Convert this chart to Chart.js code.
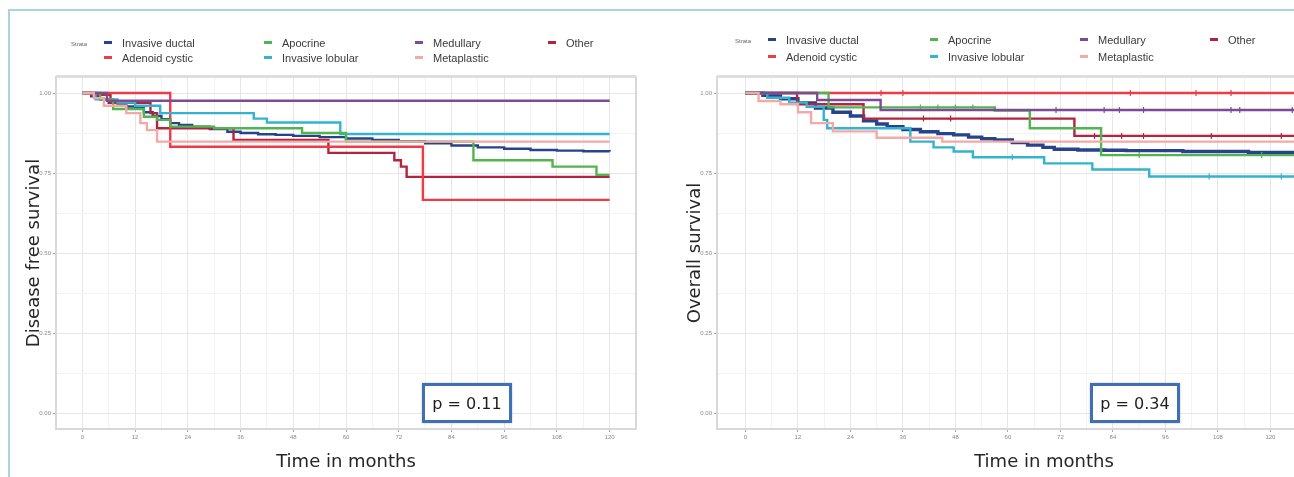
<!DOCTYPE html>
<html>
<head>
<meta charset="utf-8">
<script src="https://cdn.jsdelivr.net/npm/chart.js@4.4.1/dist/chart.umd.min.js"></script>
<style>
    html, body { margin: 0; padding: 0; background: #fff; }
    body { width: 1294px; height: 477px; overflow: hidden; position: relative; font-family: "DejaVu Sans", sans-serif; }
    .frame { position: absolute; left: 8px; top: 9px; width: 1300px; height: 480px; border-top: 2px solid #a9d5de; border-left: 2px solid #a9d5de; }
    canvas { position: absolute; top: 0; }
    #dfsChart { left: 0; }
    #osChart { left: 650px; }
    .strata { position: absolute; font-family: "Liberation Sans", sans-serif; font-size: 6px; color: #666; }
    .item { position: absolute; white-space: nowrap; font-family: "Liberation Sans", sans-serif; font-size: 11px; line-height: 13px; color: #3a3a3a; }
    .sw { position: absolute; width: 8px; height: 3px; }
    .pbox { position: absolute; box-sizing: border-box; width: 90px; height: 40px; border: 3px solid #3f6fb5; background: #fff;
            display: flex; align-items: center; justify-content: center; font-size: 16px; color: #1e1e1e; box-shadow: 0 0 2px rgba(0,0,0,0.25); }
</style>
</head>
<body>
<div class="frame"></div>
<canvas id="dfsChart" width="650" height="477"></canvas>
<canvas id="osChart" width="740" height="477"></canvas>
<div id="legends"></div>
<div class="pbox" style="left:422px;top:383px;">p = 0.11</div>
<div class="pbox" style="left:1090px;top:383px;">p = 0.34</div>

<script>
// ---- data ----
const groups = ['Invasive ductal', 'Adenoid cystic', 'Apocrine', 'Invasive lobular', 'Medullary', 'Metaplastic', 'Other'];

const dfsMonthTicks = [0, 12, 24, 36, 48, 60, 72, 84, 96, 108, 120];
const osMonthTicks = [0, 12, 24, 36, 48, 60, 72, 84, 96, 108, 120, 132];
const survTicks = [0, 0.25, 0.5, 0.75, 1];

// Disease free survival (left)
const dfsDuctalT = [0, 2, 4, 6, 8, 10, 12, 14, 16, 18, 20, 22, 25, 29, 33, 36, 40, 44, 48, 54, 60, 66, 72, 78, 84, 90, 96, 102, 108, 114, 120];
const dfsDuctalS = [1, 0.99, 0.98, 0.969, 0.965, 0.958, 0.953, 0.94, 0.928, 0.918, 0.906, 0.9, 0.895, 0.887, 0.879, 0.875, 0.871, 0.869, 0.866, 0.862, 0.858, 0.853, 0.849, 0.843, 0.836, 0.83, 0.826, 0.822, 0.82, 0.818, 0.817];
const dfsAdenoidT = [0, 20, 77.5, 120];
const dfsAdenoidS = [1, 0.832, 0.666, 0.666];
const dfsApocrineT = [0, 4, 7, 14, 17, 20, 30, 50, 60, 89, 107, 117, 120];
const dfsApocrineS = [1, 0.98, 0.95, 0.926, 0.916, 0.895, 0.89, 0.875, 0.848, 0.79, 0.77, 0.744, 0.744];
const dfsLobularT = [0, 3, 8, 12, 17.7, 39, 42, 58.7, 120];
const dfsLobularS = [1, 0.98, 0.97, 0.96, 0.937, 0.92, 0.908, 0.872, 0.872];
const dfsMedullaryT = [0, 5.6, 120];
const dfsMedullaryS = [1, 0.976, 0.976];
const dfsMetaplasticT = [0, 2.6, 4.9, 10, 13.2, 14.7, 17, 120];
const dfsMetaplasticS = [1, 0.984, 0.96, 0.937, 0.906, 0.884, 0.848, 0.848];
const dfsOtherT = [0, 2, 6.4, 15.5, 17, 34.4, 56, 71, 72.5, 73.8, 120];
const dfsOtherS = [1, 0.994, 0.969, 0.937, 0.89, 0.853, 0.813, 0.79, 0.77, 0.738, 0.738];

// Overall survival (right)
const osDuctalT = [0, 4, 8, 12, 16, 20, 24, 27, 30, 32.4, 36, 40, 44, 47.6, 51, 54, 57, 61, 64.5, 68, 70.6, 76, 82, 87, 100, 115, 137];
const osDuctalS = [1, 0.993, 0.982, 0.969, 0.953, 0.94, 0.928, 0.913, 0.903, 0.895, 0.886, 0.879, 0.873, 0.869, 0.862, 0.857, 0.853, 0.845, 0.837, 0.83, 0.824, 0.822, 0.821, 0.82, 0.817, 0.814, 0.813];
const osAdenoidT = [0, 137];
const osAdenoidS = [1, 1];
const osAdenoidCens = [31, 36, 88, 103, 111];
const osApocrineT = [0, 19, 57, 65, 81.3, 137];
const osApocrineS = [1, 0.955, 0.945, 0.89, 0.806, 0.806];
const osApocrineCens = [40, 44, 48, 52, 90, 118];
const osLobularT = [0, 5, 10, 14, 17.9, 18.7, 37.7, 43, 47.6, 52, 68.3, 79.3, 92.3, 137];
const osLobularS = [1, 0.985, 0.97, 0.957, 0.916, 0.89, 0.848, 0.83, 0.817, 0.799, 0.78, 0.761, 0.739, 0.739];
const osLobularCens = [61, 106, 122.5];
const osMedullaryT = [0, 16.4, 30.9, 137];
const osMedullaryS = [1, 0.978, 0.947, 0.947];
const osMedullaryCens = [71, 82, 85.5, 91, 111, 113, 125];
const osMetaplasticT = [0, 3, 8, 12, 15, 20, 30, 45, 137];
const osMetaplasticS = [1, 0.975, 0.965, 0.94, 0.906, 0.88, 0.86, 0.848, 0.848];
const osOtherT = [0, 11.8, 27, 75.2, 137];
const osOtherS = [1, 0.965, 0.92, 0.866, 0.866];
const osOtherCens = [40.7, 46.9, 79.8, 86, 91, 106.5, 122.5];

// ---- styles ----
const groupColors = ['#27438c', '#ee3b46', '#52b44f', '#33b3cf', '#7d4a94', '#f3aaa6', '#b2243f'];

function survAt(T, S, t) {
    let s = S[0];
    for (let i = 0; i < T.length; i++) if (T[i] <= t) s = S[i];
    return s;
}

function curve(i, T, S, width) {
    return {
        type: 'line',
        label: groups[i],
        data: T.map((t, k) => ({ x: t, y: S[k] })),
        borderColor: groupColors[i],
        borderWidth: width || 2.4,
        stepped: true,
        pointRadius: 0,
        fill: false
    };
}

function censors(i, T, S, C) {
    return {
        type: 'scatter',
        data: C.map(t => ({ x: t, y: survAt(T, S, t) })),
        borderColor: groupColors[i],
        backgroundColor: groupColors[i],
        pointStyle: 'cross',
        pointRadius: 3,
        borderWidth: 1.2,
        showLine: false
    };
}

const panelBorder = {
    id: 'panelBorder',
    beforeDatasetsDraw(chart) {
        const { ctx, chartArea: a } = chart;
        ctx.save();
        ctx.strokeStyle = '#d8d8d8';
        ctx.lineWidth = 2;
        ctx.strokeRect(a.left, a.top, a.right - a.left, a.bottom - a.top);
        ctx.fillStyle = '#dedede';
        ctx.fillRect(a.left, a.top - 2, a.right - a.left, 3);
        ctx.restore();
    }
};

function withMinor(major) {
    const out = [];
    major.forEach((v, i) => {
        out.push(v);
        if (i < major.length - 1) out.push((v + major[i + 1]) / 2);
    });
    return out;
}

function makeChart(id, datasets, monthTicks, xMin, xMax, yTitle, pad) {
    const xAll = withMinor(monthTicks);
    const yAll = withMinor(survTicks);
    new Chart(document.getElementById(id), {
        data: { datasets },
        options: {
            responsive: false,
            animation: false,
            devicePixelRatio: 1,
            layout: { padding: pad },
            plugins: { legend: { display: false }, tooltip: { enabled: false } },
            scales: {
                x: {
                    type: 'linear',
                    min: xMin,
                    max: xMax,
                    afterBuildTicks: s => { s.ticks = xAll.map(v => ({ value: v })); },
                    afterFit: s => { s.height = 48; },
                    grid: {
                        color: c => monthTicks.includes(c.tick && c.tick.value) ? '#e6e6e6' : '#f3f3f3',
                        tickColor: c => monthTicks.includes(c.tick && c.tick.value) ? '#aaa' : 'rgba(0,0,0,0)',
                        tickLength: 3
                    },
                    border: { display: false },
                    ticks: {
                        autoSkip: false,
                        maxRotation: 0,
                        padding: 2,
                        color: '#888',
                        font: { size: 6 },
                        callback: v => monthTicks.includes(v) ? String(v) : ''
                    },
                    title: {
                        display: true,
                        text: 'Time in months',
                        color: '#262626',
                        font: { family: 'DejaVu Sans', size: 18 },
                        padding: { top: 4, bottom: 4 }
                    }
                },
                y: {
                    type: 'linear',
                    min: -0.05,
                    max: 1.05,
                    afterBuildTicks: s => { s.ticks = yAll.map(v => ({ value: v })); },
                    afterFit: s => { s.width = 37; },
                    grid: {
                        color: c => survTicks.includes(c.tick && c.tick.value) ? '#e6e6e6' : '#f3f3f3',
                        tickColor: c => survTicks.includes(c.tick && c.tick.value) ? '#aaa' : 'rgba(0,0,0,0)',
                        tickLength: 3
                    },
                    border: { display: false },
                    ticks: {
                        autoSkip: false,
                        padding: 2,
                        color: '#888',
                        font: { size: 6 },
                        callback: v => survTicks.includes(v) ? v.toFixed(2) : ''
                    },
                    title: {
                        display: true,
                        text: yTitle,
                        color: '#262626',
                        font: { family: 'DejaVu Sans', size: 18 },
                        padding: { top: 5, bottom: 4 }
                    }
                }
            }
        },
        plugins: [panelBorder]
    });
}

makeChart('dfsChart', [
    curve(5, dfsMetaplasticT, dfsMetaplasticS),
    curve(4, dfsMedullaryT, dfsMedullaryS),
    curve(2, dfsApocrineT, dfsApocrineS),
    curve(3, dfsLobularT, dfsLobularS),
    curve(1, dfsAdenoidT, dfsAdenoidS),
    curve(6, dfsOtherT, dfsOtherS),
    curve(0, dfsDuctalT, dfsDuctalS)
], dfsMonthTicks, -6, 126, 'Disease free survival', { top: 77, left: 19, right: 14, bottom: 0 });

makeChart('osChart', [
    curve(5, osMetaplasticT, osMetaplasticS),
    curve(4, osMedullaryT, osMedullaryS),
    censors(4, osMedullaryT, osMedullaryS, osMedullaryCens),
    curve(2, osApocrineT, osApocrineS),
    censors(2, osApocrineT, osApocrineS, osApocrineCens),
    curve(3, osLobularT, osLobularS),
    censors(3, osLobularT, osLobularS, osLobularCens),
    curve(1, osAdenoidT, osAdenoidS),
    censors(1, osAdenoidT, osAdenoidS, osAdenoidCens),
    curve(6, osOtherT, osOtherS),
    censors(6, osOtherT, osOtherS, osOtherCens),
    curve(0, osDuctalT, osDuctalS, 3.4)
], osMonthTicks, -6.5, 143, 'Overall survival', { top: 77, left: 30, right: 19, bottom: 0 });

// ---- legends (two rows, filled column by column) ----
function buildLegend(strataX, strataY, colX, rowY) {
    const wrap = document.getElementById('legends');
    const st = document.createElement('div');
    st.className = 'strata';
    st.style.left = strataX + 'px';
    st.style.top = strataY + 'px';
    st.textContent = 'Strata';
    wrap.appendChild(st);
    groups.forEach((g, i) => {
        const col = Math.floor(i / 2), row = i % 2;
        const sw = document.createElement('div');
        sw.className = 'sw';
        sw.style.left = colX[col] + 'px';
        sw.style.top = (rowY[row] - 3) + 'px';
        sw.style.background = groupColors[i];
        wrap.appendChild(sw);
        const t = document.createElement('div');
        t.className = 'item';
        t.style.left = (colX[col] + 18) + 'px';
        t.style.top = (rowY[row] - 7) + 'px';
        t.textContent = g;
        wrap.appendChild(t);
    });
}

buildLegend(71, 41, [104, 264, 415, 548], [44, 59]);
buildLegend(735, 38, [768, 930, 1080, 1210], [41, 58]);
</script>
</body>
</html>
